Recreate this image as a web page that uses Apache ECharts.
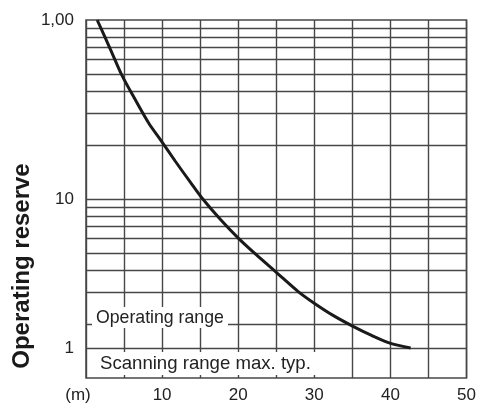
<!DOCTYPE html>
<html><head><meta charset="utf-8">
<script src="https://cdn.jsdelivr.net/npm/echarts@6/dist/echarts.min.js"></script>
<style>html,body{margin:0;padding:0;background:#fff}#c{width:479px;height:404px}</style>
</head><body><div id="c"></div>
<script>
// curve: scanning distance (m) vs operating reserve
const distance = [1.47, 3.22, 4.76, 6.5, 8.25, 9.79, 11.76, 13.73, 15.18, 17.67, 20.04, 22.4, 24.9, 27.92, 30.03, 32.52, 35.02, 37.52, 40.03, 42.65];
const reserve  = [100, 68.4, 48.7, 35.7, 26.5, 21.4, 16.2, 12.37, 10.2, 7.68, 6.03, 4.87, 3.93, 3.03, 2.61, 2.23, 1.95, 1.73, 1.56, 1.47];
// y tick labels (value -> text)
const yLabelValues = [1.47, 10, 100];
const yLabelTexts  = ['1', '10', '1,00'];
// horizontal grid lines
const yGridValues = [1.47, 2, 3, 4, 5, 6, 7, 8, 9, 10, 20, 30, 40, 50, 60, 70, 80, 90];
// x tick labels
const xLabelValues = [0, 10, 20, 30, 40, 50];
const xLabelTexts  = ['(m)', '10', '20', '30', '40', '50'];
const axisTitle = 'Operating reserve';
const noteOperating = 'Operating range';
const noteScanning = 'Scanning range max. typ.';

const FONT = 'Liberation Sans, Arial, sans-serif';
const GRID = '#474747';
const chart = echarts.init(document.getElementById('c'), null, {renderer: 'canvas'});
chart.setOption({
  animation: false,
  grid: {left: 86, right: 12, top: 20, bottom: 26, show: true, borderColor: GRID, borderWidth: 1.5},
  xAxis: {
    type: 'value', min: 0, max: 50, interval: 5,
    axisLine: {show: false}, axisTick: {show: false},
    splitLine: {show: true, lineStyle: {color: GRID, width: 1.4}},
    axisLabel: {
      margin: 9, fontSize: 17, color: '#222', fontFamily: FONT,
      showMinLabel: true, showMaxLabel: true,
      formatter: v => {
        const i = xLabelValues.indexOf(v);
        if (i < 0) return '';
        return v === 0 ? '{m|' + xLabelTexts[i] + '}' : xLabelTexts[i];
      },
      rich: {m: {fontSize: 17, color: '#222', fontFamily: FONT, padding: [0, 16, 0, 0]}}
    }
  },
  yAxis: {
    type: 'log', logBase: 10, min: 1, max: 100,
    axisLine: {show: false}, axisTick: {show: false},
    splitLine: {show: false},
    axisLabel: {
      customValues: yLabelValues,
      margin: 12, fontSize: 17, color: '#222', fontFamily: FONT,
      formatter: v => {
        let best = 0;
        yLabelValues.forEach((y, i) => { if (Math.abs(Math.log10(y) - Math.log10(v)) < Math.abs(Math.log10(yLabelValues[best]) - Math.log10(v))) best = i; });
        return yLabelTexts[best];
      }
    }
  },
  series: [
    {
      type: 'line', data: [], z: 1, silent: true,
      markLine: {
        silent: true, symbol: 'none', animation: false,
        label: {show: false},
        lineStyle: {color: GRID, width: 1.4, type: 'solid'},
        data: yGridValues.map(v => ({yAxis: v}))
      }
    },
    {
      type: 'line', z: 5,
      data: distance.map((d, i) => [d, reserve[i]]),
      smooth: 0.3, symbol: 'none',
      lineStyle: {color: '#1a1a1a', width: 3}
    }
  ],
  graphic: [
    {type: 'rect', z: 100, shape: {x: 92, y: 307, width: 136, height: 21}, style: {fill: '#fff'}},
    {type: 'text', z: 101, x: 96, y: 318, style: {text: noteOperating, font: '17.7px ' + FONT, fill: '#222', textAlign: 'left', textVerticalAlign: 'middle'}},
    {type: 'rect', z: 100, shape: {x: 88, y: 352, width: 232, height: 23}, style: {fill: '#fff'}},
    {type: 'text', z: 101, x: 100, y: 364, style: {text: noteScanning, font: '18.6px ' + FONT, fill: '#222', textAlign: 'left', textVerticalAlign: 'middle'}},
    {type: 'text', z: 101, x: 22, y: 266, rotation: Math.PI / 2, style: {text: axisTitle, font: 'bold 24px ' + FONT, fill: '#1a1a1a', textAlign: 'center', textVerticalAlign: 'middle'}}
  ]
});
</script></body></html>
